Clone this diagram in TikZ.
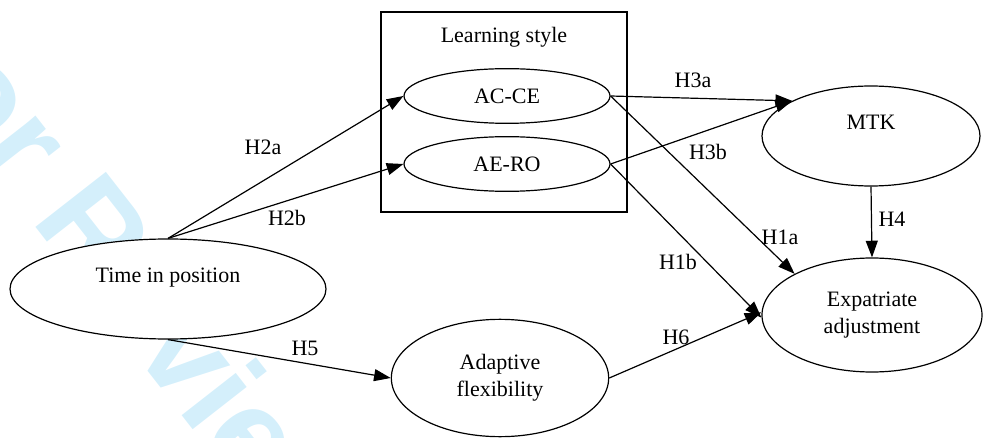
\documentclass[tikz,border=0pt]{standalone}
\usepackage{fontspec}
\setmainfont{Liberation Serif}
\newfontfamily\wmfont{Liberation Sans Bold}
\usetikzlibrary{shapes.geometric,arrows.meta}
\definecolor{wmblue}{RGB}{212,239,251}
\tikzset{
  var/.style={draw, ellipse, fill=white, line width=0.9pt, inner sep=0pt, align=center, font=\fontsize{16.5}{20}\selectfont},
  hyp/.style={font=\fontsize{16.5}{20}\selectfont},
  link/.style={-{Triangle[length=12.5pt,width=9pt]}, line width=0.9pt},
  wmark/.style={rotate=-52, text=wmblue, inner sep=0pt, font=\wmfont\fontsize{97.5}{97.5}\selectfont}
}
\begin{document}
\begin{tikzpicture}[x=0.75pt,y=0.75pt,yscale=-1,xscale=1]
\useasboundingbox (0,0) rectangle (984,438);

            %Watermark
            \node[wmark, anchor=base west] (wmrev) at (30,220) {Review};
            \node[wmark, anchor=base east] (wmfor) at (8,192) {For};
            %Shape: Rectangle
            \node[draw, line width=0.9pt, minimum width=184.5pt, minimum height=150pt] (lsbox) at (504,112) {};
            \node[hyp] (lstitle) at (504,37) {Learning style};
            %Shape: Ellipse
            \node[var, minimum width=237pt, minimum height=75pt] (time) at (168,289) {Time in position\\\mbox{}};
            \node[var, minimum width=154.5pt, minimum height=41pt] (acce) at (507,96) {AC-CE};
            \node[var, minimum width=154.5pt, minimum height=41pt] (aero) at (507,164) {AE-RO};
            \node[var, minimum width=163.5pt, minimum height=75pt] (mtk) at (871,136) {MTK\\\mbox{}};
            \node[var, minimum width=165pt, minimum height=85.5pt] (expat) at (872,315) {Expatriate\\adjustment};
            \node[var, minimum width=163pt, minimum height=88pt] (adapt) at (500,378) {Adaptive\\flexibility};
            %Straight Lines
            \draw[link] (time.north) -- (acce.west);
            \draw[link] (time.north) -- (aero.west);
            \draw[link] (time.south) -- (adapt.west);
            \draw[link] (acce.east) -- (mtk.156);
            \draw[link] (aero.east) -- (mtk.156);
            \draw[link] (acce.east) -- (expat.152);
            \draw[link] (aero.east) -- ([yshift=2pt]expat.west);
            \draw[link] (adapt.east) -- ([yshift=-2pt]expat.west);
            \draw[link] (mtk.south) -- (expat.north);
            %Labels
            \node[hyp] (lh2a) at (263,147) {H2a};
            \node[hyp] (lh2b) at (287,218) {H2b};
            \node[hyp] (lh3a) at (693,80) {H3a};
            \node[hyp] (lh3b) at (708,152) {H3b};
            \node[hyp] (lh1a) at (780,237) {H1a};
            \node[hyp] (lh1b) at (678,262) {H1b};
            \node[hyp] (lh4) at (892,219) {H4};
            \node[hyp] (lh5) at (305,348) {H5};
            \node[hyp] (lh6) at (676,337) {H6};

\end{tikzpicture}
\end{document}
